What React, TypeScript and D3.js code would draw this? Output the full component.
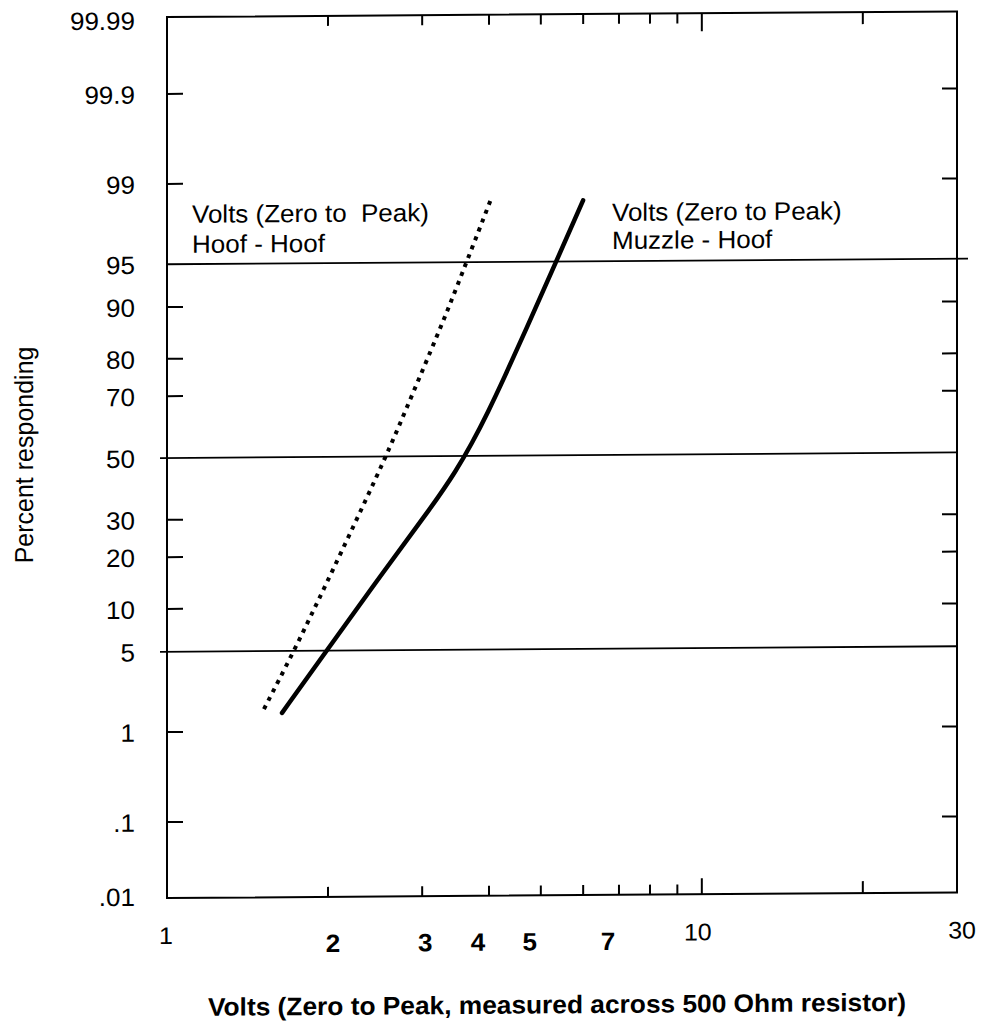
import React from "react";
import * as d3 from "d3";

// ---------- data ----------
const hoofVolts = [1.518, 1.728, 1.908, 2.185, 2.568, 2.779, 3.136, 3.366, 3.631, 4.035];
const hoofPct = [1.63, 5, 10.75, 24.8, 50, 64.3, 82.3, 89.7, 95, 98.53];
const muzzleVolts = [1.641, 1.995, 2.512, 3.162, 3.467, 3.715, 3.981, 4.266, 4.677, 5.248, 5.998];
const muzzlePct = [1.5, 5.09, 15.72, 34.46, 44.83, 54.14, 64.36, 74.41, 85.45, 94.13, 98.47];

const yTickValues = [99.99, 99.9, 99, 95, 90, 80, 70, 50, 30, 20, 10, 5, 1, 0.1, 0.01];
const yTickLabels = ["99.99", "99.9", "99", "95", "90", "80", "70", "50", "30", "20", "10", "5", "1", ".1", ".01"];
const yTickMarks = [99.9, 99, 90, 80, 70, 30, 20, 10, 1, 0.1];
const refLines = [95, 50, 5];

const xTickMarks = [2, 3, 4, 5, 6, 7, 8, 9, 10, 20];
const xLabelsRegular = [1, 10, 30];
const xLabelsBold = [2, 3, 4, 5, 7];

const yTitle = "Percent responding";
const xTitle = "Volts (Zero to Peak, measured across 500 Ohm resistor)";
const hoofNote = ["Volts (Zero to  Peak)", "Hoof - Hoof"];
const muzzleNote = ["Volts (Zero to Peak)", "Muzzle - Hoof"];

// ---------- layout / style ----------
const W = 983;
const H = 1026;
const left = 167;
const right = 957;
const top = 17;
const bottom = 898;
const FONT = "'Liberation Sans', Arial, Helvetica, sans-serif";
const SX = 1.04; // horizontal stretch of scanned glyphs
const SKEW = -0.007; // scan skew: right side slightly higher
const regularNudge = [-1, -4, 5];
const boldNudge = [5, 3, -11, -11, -11];

// inverse normal CDF (Acklam)
function probit(p: number): number {
  const a = [-3.969683028665376e1, 2.209460984245205e2, -2.759285104469687e2, 1.38357751867269e2, -3.066479806614716e1, 2.506628277459239];
  const b = [-5.447609879822406e1, 1.615858368580409e2, -1.556989798598866e2, 6.680131188771972e1, -1.328068155288572e1];
  const c = [-7.784894002430293e-3, -3.223964580411365e-1, -2.400758277161838, -2.549732539343734, 4.374664141464968, 2.938163982698783];
  const d = [7.784695709041462e-3, 3.224671290700398e-1, 2.445134137142996, 3.754408661907416];
  const plow = 0.02425;
  const phigh = 1 - plow;
  if (p < plow) {
    const q = Math.sqrt(-2 * Math.log(p));
    return (((((c[0] * q + c[1]) * q + c[2]) * q + c[3]) * q + c[4]) * q + c[5]) / ((((d[0] * q + d[1]) * q + d[2]) * q + d[3]) * q + 1);
  }
  if (p <= phigh) {
    const q = p - 0.5;
    const r = q * q;
    return ((((((a[0] * r + a[1]) * r + a[2]) * r + a[3]) * r + a[4]) * r + a[5]) * q) / (((((b[0] * r + b[1]) * r + b[2]) * r + b[3]) * r + b[4]) * r + 1);
  }
  const q = Math.sqrt(-2 * Math.log(1 - p));
  return -(((((c[0] * q + c[1]) * q + c[2]) * q + c[3]) * q + c[4]) * q + c[5]) / ((((d[0] * q + d[1]) * q + d[2]) * q + d[3]) * q + 1);
}

const x = d3.scaleLog().domain([1, 30]).range([left, right]);
const zScale = d3.scaleLinear().domain([probit(0.0001), probit(0.9999)]).range([896.1, 19.9]);
const y = (pct: number) => zScale(probit(pct / 100));

const line = d3
  .line<[number, number]>()
  .x((d) => x(d[0]))
  .y((d) => y(d[1]))
  .curve(d3.curveBasis);

const hoofPts = hoofVolts.map((v, i) => [v, hoofPct[i]] as [number, number]);
const muzzlePts = muzzleVolts.map((v, i) => [v, muzzlePct[i]] as [number, number]);

function T(props: { x: number; y: number; size: number; bold?: boolean; anchor?: string; children: React.ReactNode; rotate?: number }) {
  const { x: tx, y: ty, size, bold, anchor, children, rotate } = props;
  return (
    <text
      transform={`translate(${tx},${ty}) scale(${SX},1)${rotate ? ` rotate(${rotate})` : ""}`}
      fontFamily={FONT}
      fontSize={size}
      fontWeight={bold ? "bold" : "normal"}
      textAnchor={anchor || "start"}
      fill="#000"
      style={{ whiteSpace: "pre" }}
    >
      {children}
    </text>
  );
}

export default function App() {
  const tickLen = (v: number) => (v === 10 ? 16 : v === 20 ? 12 : 10);
  return (
    <svg width={W} height={H} style={{ position: "absolute", left: 0, top: 0, background: "#fff" }}>
      <rect x={0} y={0} width={W} height={H} fill="#fff" />
      <g transform={`matrix(1,${SKEW},0,1,0,${-SKEW * left})`}>
        {/* frame */}
        <rect x={left} y={top} width={right - left} height={bottom - top} fill="none" stroke="#000" strokeWidth={2} />

        {/* y ticks left & right */}
        {yTickMarks.map((v) => (
          <g key={"yt" + v}>
            <line x1={left} x2={left + 16} y1={y(v)} y2={y(v)} stroke="#000" strokeWidth={2} />
            <line x1={right - 15} x2={right} y1={y(v)} y2={y(v)} stroke="#000" strokeWidth={2} />
          </g>
        ))}

        {/* reference lines */}
        {refLines.map((v, i) => (
          <line
            key={"rl" + v}
            x1={i === 0 ? left : left - 7}
            x2={i === 0 ? right + 11 : right}
            y1={y(v)}
            y2={y(v)}
            stroke="#000"
            strokeWidth={1.8}
          />
        ))}

        {/* x ticks bottom & top */}
        {xTickMarks.map((v) => (
          <g key={"xt" + v}>
            <line x1={x(v)} x2={x(v)} y1={bottom} y2={bottom - tickLen(v)} stroke="#000" strokeWidth={2} />
            <line x1={x(v)} x2={x(v)} y1={top} y2={top + tickLen(v) + (v === 10 ? 2 : 0)} stroke="#000" strokeWidth={2} />
          </g>
        ))}

        {/* y tick labels */}
        {yTickValues.map((v, i) => (
          <T key={"yl" + v} x={135} y={y(v) + 9.5} size={25} anchor="end">
            {yTickLabels[i]}
          </T>
        ))}

        {/* x tick labels */}
        {xLabelsRegular.map((v, i) => (
          <T key={"xr" + v} x={x(v) + regularNudge[i]} y={944} size={24} anchor="middle">
            {String(v)}
          </T>
        ))}
        {xLabelsBold.map((v, i) => (
          <T key={"xb" + v} x={x(v) + boldNudge[i]} y={953} size={25} bold anchor="middle">
            {String(v)}
          </T>
        ))}

        {/* curves */}
        <path d={line(hoofPts) || ""} fill="none" stroke="#000" strokeWidth={4} strokeDasharray="4 5.5" />
        <path d={line(muzzlePts) || ""} fill="none" stroke="#000" strokeWidth={4.5} strokeLinecap="round" />

        {/* annotations */}
        <T x={192} y={223} size={25}>{hoofNote[0]}</T>
        <T x={192} y={253} size={25}>{hoofNote[1]}</T>
        <T x={612} y={224} size={25}>{muzzleNote[0]}</T>
        <T x={612} y={252} size={25}>{muzzleNote[1]}</T>

        {/* titles */}
        <T x={33} y={454} size={25} anchor="middle" rotate={-90}>{yTitle}</T>
        <T x={557} y={1016} size={25.3} bold anchor="middle">{xTitle}</T>
      </g>
    </svg>
  );
}
